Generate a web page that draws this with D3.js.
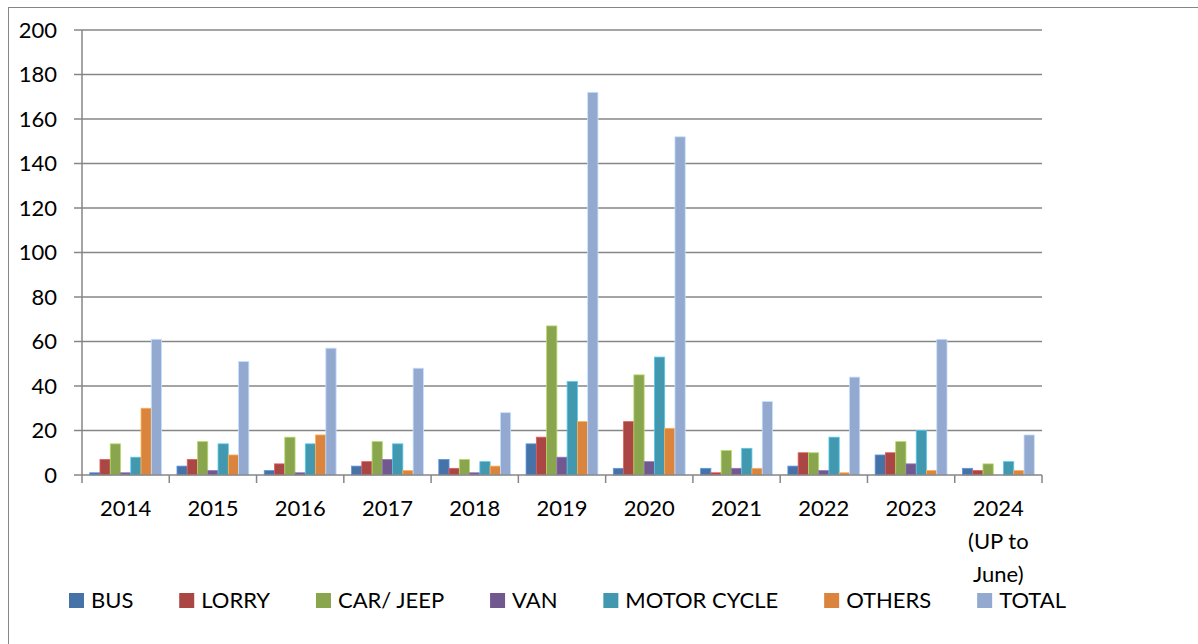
<!DOCTYPE html>
<html lang="en">
<head>
    <meta charset="UTF-8">
    <title>Vehicles by year</title>
    <script src="https://cdn.jsdelivr.net/npm/d3@7"></script>
    <style>
        body { margin: 0; background: #fff; }
        text { font-family: Lato, "Open Sans", sans-serif; fill: #000; }
    </style>
</head>
<body>
    <script>
        // data
        var years = ["2014", "2015", "2016", "2017", "2018", "2019", "2020", "2021", "2022", "2023", "2024\n(UP to\nJune)"];
        var series = ["BUS", "LORRY", "CAR/ JEEP", "VAN", "MOTOR CYCLE", "OTHERS", "TOTAL"];
        var bus = [1, 4, 2, 4, 7, 14, 3, 3, 4, 9, 3];
        var lorry = [7, 7, 5, 6, 3, 17, 24, 1, 10, 10, 2];
        var carJeep = [14, 15, 17, 15, 7, 67, 45, 11, 10, 15, 5];
        var van = [1, 2, 1, 7, 1, 8, 6, 3, 2, 5, 0];
        var motorCycle = [8, 14, 14, 14, 6, 42, 53, 12, 17, 20, 6];
        var others = [30, 9, 18, 2, 4, 24, 21, 3, 1, 2, 2];
        var total = [61, 51, 57, 48, 28, 172, 152, 33, 44, 61, 18];
        var yTicks = [0, 20, 40, 60, 80, 100, 120, 140, 160, 180, 200];

        var values = [bus, lorry, carJeep, van, motorCycle, others, total];
        var colors = ["#4572A7", "#AA4643", "#89A54E", "#71588F", "#4198AF", "#DB843D", "#93A9CF"];

        var W = 1198, H = 644;
        var plotLeft = 82, plotRight = 1042, plotTop = 30, plotBottom = 475;

        var svg = d3.select("body").append("svg")
            .attr("width", W)
            .attr("height", H);

        // outer chart border
        svg.append("rect")
            .attr("x", 8.5).attr("y", 7.5)
            .attr("width", W).attr("height", H)
            .attr("fill", "none")
            .attr("stroke", "#868686")
            .attr("stroke-width", 1);

        var y = d3.scaleLinear().domain([0, 200]).range([plotBottom, plotTop]);
        var x0 = d3.scaleBand().domain(years).range([plotLeft, plotRight]).paddingInner(0).paddingOuter(0);
        // Excel gap width 150% -> 7 bars take 7/(7+1.5) of the category
        var x1 = d3.scaleBand().domain(series).range([0, x0.bandwidth() * 7 / 8.5]);
        var groupOffset = x0.bandwidth() * 0.75 / 8.5;

        // gridlines
        svg.append("g")
            .selectAll("line")
            .data(yTicks.filter(function (d) { return d > 0; }))
            .enter().append("line")
            .attr("x1", plotLeft - 8).attr("x2", plotRight)
            .attr("y1", function (d) { return y(d); })
            .attr("y2", function (d) { return y(d); })
            .attr("stroke", "#868686")
            .attr("stroke-width", 1.5);

        // y labels
        svg.append("g")
            .selectAll("text")
            .data(yTicks)
            .enter().append("text")
            .attr("x", 57)
            .attr("y", function (d) { return y(d); })
            .attr("dy", "0.36em")
            .attr("text-anchor", "end")
            .style("font-size", "22px")
            .text(function (d) { return d; });

        // bars
        var groups = svg.append("g")
            .selectAll("g")
            .data(years)
            .enter().append("g")
            .attr("transform", function (d) { return "translate(" + (x0(d) + groupOffset) + ",0)"; });

        groups.selectAll("rect")
            .data(function (d, i) {
                return series.map(function (s, k) { return { s: s, v: values[k][i], k: k }; });
            })
            .enter().append("rect")
            .attr("x", function (d) { return x1(d.s); })
            .attr("y", function (d) { return y(d.v); })
            .attr("width", x1.bandwidth())
            .attr("height", function (d) { return plotBottom - y(d.v); })
            .attr("fill", function (d) { return colors[d.k]; })
            .attr("stroke", function (d) { return d3.color(colors[d.k]).brighter(0.8); })
            .attr("stroke-width", function (d) { return d.v > 0 ? 0.8 : 0; });

        // axis lines
        svg.append("line")
            .attr("x1", plotLeft).attr("x2", plotLeft)
            .attr("y1", plotTop).attr("y2", plotBottom)
            .attr("stroke", "#868686").attr("stroke-width", 1.5);
        svg.append("line")
            .attr("x1", plotLeft - 8).attr("x2", plotRight)
            .attr("y1", plotBottom).attr("y2", plotBottom)
            .attr("stroke", "#868686").attr("stroke-width", 1.5);

        // category tick marks
        var bounds = years.map(function (d) { return x0(d); }).concat([plotRight]);
        svg.append("g")
            .selectAll("line")
            .data(bounds)
            .enter().append("line")
            .attr("x1", function (d) { return d; })
            .attr("x2", function (d) { return d; })
            .attr("y1", plotBottom).attr("y2", plotBottom + 8)
            .attr("stroke", "#868686").attr("stroke-width", 1.5);

        // x labels
        var xl = svg.append("g")
            .selectAll("text")
            .data(years)
            .enter().append("text")
            .attr("x", function (d) { return x0(d) + x0.bandwidth() / 2; })
            .attr("y", 508)
            .attr("text-anchor", "middle")
            .style("font-size", "22px");
        xl.selectAll("tspan")
            .data(function (d) { return d.split("\n"); })
            .enter().append("tspan")
            .attr("x", function () { return d3.select(this.parentNode).attr("x"); })
            .attr("dy", function (d, i) { return i === 0 ? "0.36em" : "33px"; })
            .text(function (d) { return d; });

        // legend
        var legend = svg.append("g");
        var items = legend.selectAll("g")
            .data(series)
            .enter().append("g");
        items.append("rect")
            .attr("width", 15).attr("height", 15)
            .attr("y", 593)
            .attr("fill", function (d, i) { return colors[i]; });
        items.append("text")
            .attr("x", 22)
            .attr("y", 600)
            .attr("dy", "0.36em")
            .style("font-size", "22px")
            .text(function (d) { return d; });

        var widths = [];
        items.each(function () {
            widths.push(22 + d3.select(this).select("text").node().getComputedTextLength());
        });
        var startX = 69, endX = 1066;
        var gap = (endX - startX - d3.sum(widths)) / (series.length - 1);
        var cx = startX;
        items.attr("transform", function (d, i) {
            var t = "translate(" + cx + ",0)";
            cx += widths[i] + gap;
            return t;
        });
    </script>
</body>
</html>
